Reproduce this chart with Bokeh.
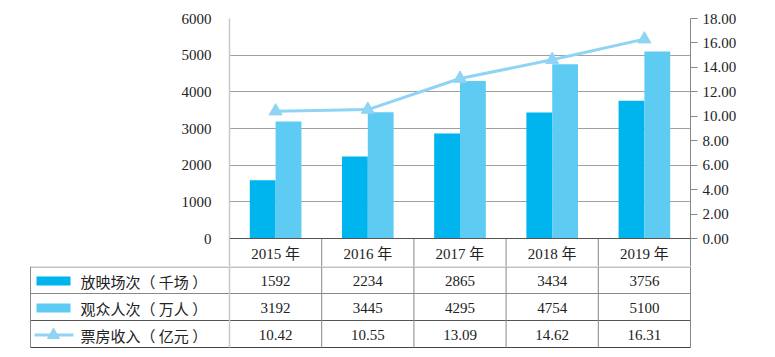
from bokeh.plotting import figure
from bokeh.layouts import column
from bokeh.models import Range1d, LinearAxis, FixedTicker, NumeralTickFormatter, Span
from bokeh.core.properties import value
from bokeh.embed import file_html
from bokeh.resources import INLINE
import numpy as np

years = ["2015 年", "2016 年", "2017 年", "2018 年", "2019 年"]
screenings = [1592, 2234, 2865, 3434, 3756]          # 放映场次（千场）
audience = [3192, 3445, 4295, 4754, 5100]            # 观众人次（万人）
box_office = [10.42, 10.55, 13.09, 14.62, 16.31]     # 票房收入（亿元）
box_labels = ["10.42", "10.55", "13.09", "14.62", "16.31"]
series_names = ["放映场次（ 千场 ）", "观众人次（ 万人 ）", "票房收入（ 亿元 ）"]
left_ticks = [0, 1000, 2000, 3000, 4000, 5000, 6000]
right_ticks = [0, 2, 4, 6, 8, 10, 12, 14, 16, 18]

C_DARK = "#00B4EE"
C_LIGHT = "#5ECBF3"
C_LINE = "#8FD4F4"
TXT = "#222222"
NUM_FONT = "Liberation Serif"
CJK_FONT = "'Liberation Serif', 'Noto Sans CJK SC'"

n = len(years)
centers = np.arange(n) + 0.5
bw = 0.28

W = 775
LEFT = 229
RIGHT_B = 85
FRAME_W = W - LEFT - RIGHT_B
PX = FRAME_W / n           # pixels per category
TOP = 18
PLOT_H = 220               # pixels from 6000 down to 0
HEAD_H = 28                # header row height (years)
YMAX_L, YMAX_R = 6000, 18
ymin_l = -HEAD_H / PLOT_H * YMAX_L
ymin_r = -HEAD_H / PLOT_H * YMAX_R

# ---------------- chart + header row ----------------
p = figure(width=W, height=TOP + PLOT_H + HEAD_H, x_range=Range1d(0, n),
           y_range=Range1d(ymin_l, YMAX_L),
           output_backend="svg", toolbar_location=None, x_axis_location=None,
           min_border_left=LEFT, min_border_right=RIGHT_B, min_border_top=TOP,
           min_border_bottom=0, frame_align=False)
p.outline_line_color = None
p.xgrid.grid_line_color = None
p.ygrid.grid_line_color = "#a0a0a0"
p.yaxis.ticker = FixedTicker(ticks=left_ticks)
p.yaxis.axis_line_color = "#c8c8c8"
p.yaxis.axis_line_width = 1.5
p.yaxis.major_tick_line_color = None
p.yaxis.minor_tick_line_color = None
p.yaxis.major_tick_out = 0
p.yaxis.major_tick_in = 0
p.yaxis.major_label_standoff = 18
p.yaxis.major_label_text_font = NUM_FONT
p.yaxis.major_label_text_font_size = "15px"
p.yaxis.major_label_text_color = TXT

p.extra_y_ranges = {"r": Range1d(ymin_r, YMAX_R)}
ax = LinearAxis(y_range_name="r", ticker=FixedTicker(ticks=right_ticks),
                formatter=NumeralTickFormatter(format="0.00"))
ax.axis_line_color = "#888888"
ax.major_tick_line_color = "#888888"
ax.minor_tick_line_color = None
ax.major_tick_out = 7
ax.major_tick_in = 0
ax.major_label_standoff = 5
ax.major_label_text_font = NUM_FONT
ax.major_label_text_font_size = "15px"
ax.major_label_text_color = TXT
p.add_layout(ax, "right")

p.add_layout(Span(location=0, dimension="width", line_color="#555555", line_width=1))

p.vbar(x=centers - bw / 2, top=screenings, width=bw, fill_color=C_DARK, line_color=None)
p.vbar(x=centers + bw / 2, top=audience, width=bw, fill_color=C_LIGHT, line_color=None)
p.line(x=centers, y=box_office, y_range_name="r", line_color=C_LINE, line_width=3)
p.scatter(x=centers, y=box_office, y_range_name="r", marker="triangle", size=13,
          fill_color=C_LINE, line_color=C_LINE)

# header row (years) below the zero line
vx = list(range(1, n))
p.segment(x0=vx, x1=vx, y0=[0] * len(vx), y1=[ymin_l] * len(vx), line_color="#888888", line_width=1)
head_y = -15 / PLOT_H * YMAX_L
p.text(x=centers, y=[head_y] * n, text=years, text_align="center", text_baseline="middle",
       text_font=value(CJK_FONT), text_font_size="15px", text_color=TXT)

# ---------------- data rows ----------------
TH = W and (357 - (TOP + PLOT_H + HEAD_H))
t = figure(width=W, height=TH, x_range=Range1d(-LEFT / PX, (W - LEFT) / PX),
           y_range=Range1d(TH, 0), output_backend="svg", toolbar_location=None,
           x_axis_location=None, y_axis_location=None, min_border=0, frame_align=False)
t.outline_line_color = None
t.xgrid.grid_line_color = None
t.ygrid.grid_line_color = None

u = lambda px: (px - LEFT) / PX  # pixel column -> category units
x_left = u(30)
row_lines = [0.5, 27, 54, 81]
row_colors = ["#888888", "#888888", "#555555", "#444444"]
t.segment(x0=[x_left] * 4, x1=[n] * 4, y0=row_lines, y1=row_lines,
          line_color=row_colors, line_width=1)
t.segment(x0=vx, x1=vx, y0=[0] * len(vx), y1=[81] * len(vx), line_color="#888888", line_width=1)
t.segment(x0=[0], x1=[0], y0=[0], y1=[81], line_color="#c8c8c8", line_width=1.5)
t.segment(x0=[n], x1=[n], y0=[0], y1=[81], line_color="#888888", line_width=1)
t.segment(x0=[x_left], x1=[x_left], y0=[0], y1=[81], line_color="#888888", line_width=1)

row_y = [14.5, 41.5, 68.5]
t.text(x=centers, y=[row_y[0]] * n, text=[str(v) for v in screenings], text_align="center",
       text_baseline="middle", text_font=value(NUM_FONT), text_font_size="15px", text_color=TXT)
t.text(x=centers, y=[row_y[1]] * n, text=[str(v) for v in audience], text_align="center",
       text_baseline="middle", text_font=value(NUM_FONT), text_font_size="15px", text_color=TXT)
t.text(x=centers, y=[row_y[2]] * n, text=box_labels, text_align="center",
       text_baseline="middle", text_font=value(NUM_FONT), text_font_size="15px", text_color=TXT)

# legend keys
t.quad(left=[u(36)], right=[u(70)], top=[row_y[0] - 4.5], bottom=[row_y[0] + 4.5],
       fill_color=C_DARK, line_color=None)
t.quad(left=[u(36)], right=[u(70)], top=[row_y[1] - 4.5], bottom=[row_y[1] + 4.5],
       fill_color=C_LIGHT, line_color=None)
t.segment(x0=[u(34)], x1=[u(73)], y0=[row_y[2]], y1=[row_y[2]], line_color=C_LINE, line_width=3)
t.scatter(x=[u(53)], y=[row_y[2]], marker="triangle", size=12, fill_color=C_LINE, line_color=C_LINE)
t.text(x=[u(80)] * 3, y=row_y, text=series_names, text_align="left", text_baseline="middle",
       text_font=value("Noto Sans CJK SC"), text_font_size="15px", text_color=TXT)

layout = column(p, t, spacing=0)
open("out.html", "w").write(file_html(layout, INLINE))
